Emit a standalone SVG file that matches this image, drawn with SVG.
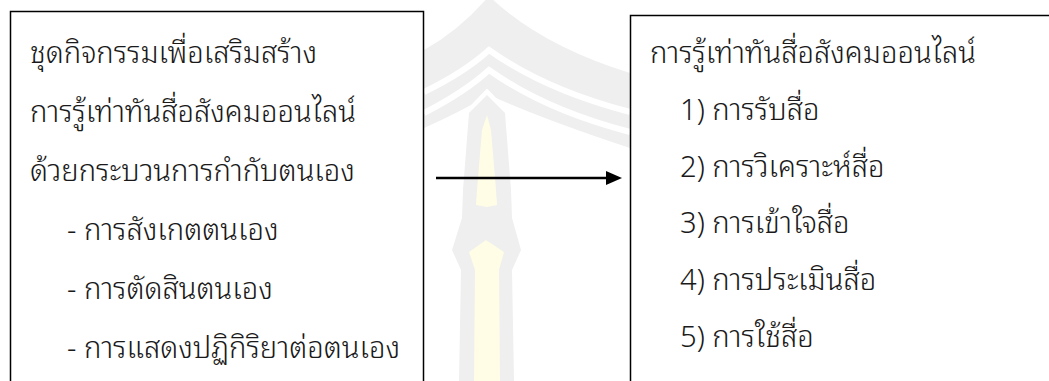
<svg xmlns="http://www.w3.org/2000/svg" width="1049" height="381" viewBox="0 0 1049 381">
  <style>
    .box { fill: #ffffff; stroke: #000000; stroke-width: 1.5; }
    .t { font-family: "Noto Sans Thai Looped", "Noto Sans Thai", "Noto Sans", "DejaVu Sans", sans-serif; font-size: 29.2px; font-weight: 300; fill: #1a1a1a; }
    .wm { fill: #efefef; }
    .wmy { fill: #fffde6; }
    .gap { stroke: #ffffff; stroke-width: 6; fill: none; }
    .conn { stroke: #000000; stroke-width: 2.5; fill: none; }
    .head { fill: #000000; }
  </style>
  <rect width="1049" height="381" fill="#ffffff"/>
  <g id="watermark">
    <path class="wm" d="M424,50 Q460,30 489,-4 Q540,45 630,73 L630,148 Q545,120 489,95 Q460,112 424,128 Z"/>
    <path class="gap" d="M424,92 Q465,72 489,50 Q545,90 630,112"/>
    <path class="gap" d="M424,113 Q465,92 489,70 Q545,110 630,132"/>
    <path d="M463,117 L487,92 L511,117" stroke="#ffffff" stroke-width="5" fill="none"/>
    <path class="wm" d="M487,95 L505,113 L511,190 L512,218 L521,250 L512,270 L514,381 L459,381 L461,270 L452,250 L462,218 L463,190 L469,113 Z"/>
    <path class="wmy" d="M487,115 L491,130 L496,190 L497,205 L487,207 L476,205 L477,190 L482,130 Z"/>
    <path class="wmy" d="M469,252 L486,240 L504,252 L499,270 L500,381 L474,381 L475,270 Z"/>
  </g>
  <g id="connectors">
    <line class="conn" x1="436" y1="178" x2="607" y2="178"/>
    <polygon class="head" points="606,171 622,178 606,185"/>
  </g>
  <g id="node-left">
    <rect class="box" x="10.5" y="11.5" width="413" height="400"/>
    <text class="t" x="30" y="63">ชุดกิจกรรมเพื่อเสริมสร้าง</text>
    <text class="t" x="30" y="122">การรู้เท่าทันสื่อสังคมออนไลน์</text>
    <text class="t" x="30" y="181">ด้วยกระบวนการกำกับตนเอง</text>
    <text class="t" x="67" y="240">- การสังเกตตนเอง</text>
    <text class="t" x="67" y="299">- การตัดสินตนเอง</text>
    <text class="t" x="67" y="358">- การแสดงปฏิกิริยาต่อตนเอง</text>
  </g>
  <g id="node-right">
    <rect class="box" x="630.5" y="15.5" width="430" height="400"/>
    <text class="t" x="650" y="63">การรู้เท่าทันสื่อสังคมออนไลน์</text>
    <text class="t" x="680" y="120">1) การรับสื่อ</text>
    <text class="t" x="680" y="177">2) การวิเคราะห์สื่อ</text>
    <text class="t" x="680" y="233">3) การเข้าใจสื่อ</text>
    <text class="t" x="680" y="290">4) การประเมินสื่อ</text>
    <text class="t" x="680" y="347">5) การใช้สื่อ</text>
  </g>
</svg>
